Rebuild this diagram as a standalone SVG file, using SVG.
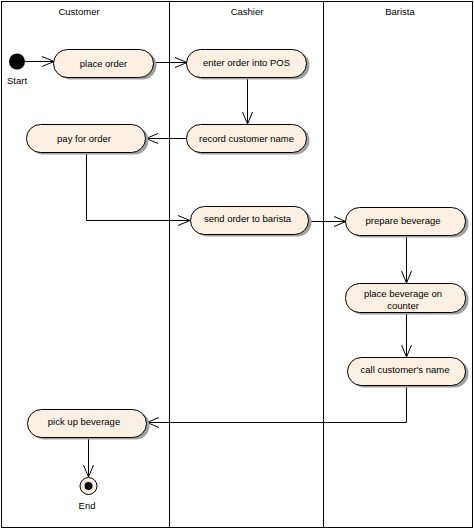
<svg xmlns="http://www.w3.org/2000/svg" width="474" height="529" viewBox="0 0 474 529">
<defs>
<marker id="arr" viewBox="0 0 12 12" refX="12" refY="6" markerWidth="12" markerHeight="12" markerUnits="userSpaceOnUse" orient="auto">
<path d="M0,1 L12,6 L0,11" fill="none" stroke="#000" stroke-width="1"/>
</marker>
</defs>
<style>
text{font-family:"Liberation Sans",Arial,sans-serif;font-size:9.5px;fill:#000;text-anchor:middle}
.act{fill:#FBF0E1;stroke:#000;stroke-width:1}
.sh{fill:#A0A0A0}
.lane{fill:none;stroke:#000;stroke-width:1}
.c{fill:none;stroke:#000;stroke-width:1;marker-end:url(#arr)}
</style>
<rect x="0" y="0" width="474" height="529" fill="#fff"/>
<g id="lanes">
<rect class="lane" x="1.5" y="1.5" width="471" height="526"/>
<line class="lane" x1="169.5" y1="1.5" x2="169.5" y2="527.5"/>
<line class="lane" x1="323.5" y1="1.5" x2="323.5" y2="527.5"/>
<text x="79" y="15">Customer</text>
<text x="247" y="15">Cashier</text>
<text x="400" y="15">Barista</text>
</g>
<g id="connectors">
<line class="c" x1="25" y1="61.5" x2="54" y2="61.5"/>
<line class="c" x1="154" y1="62.5" x2="187" y2="62.5"/>
<line class="c" x1="247.5" y1="77" x2="247.5" y2="124"/>
<line class="c" x1="187" y1="138.5" x2="146" y2="138.5"/>
<polyline class="c" points="86.5,152 86.5,220.5 190,220.5"/>
<line class="c" x1="309" y1="221.5" x2="346" y2="221.5"/>
<line class="c" x1="406.5" y1="236" x2="406.5" y2="283"/>
<line class="c" x1="406.5" y1="313" x2="406.5" y2="357"/>
<polyline class="c" points="406.5,385 406.5,422.5 147,422.5"/>
<line class="c" x1="88.5" y1="437" x2="88.5" y2="477"/>
</g>
<g id="start">
<circle cx="17" cy="61.5" r="8" fill="#000"/>
<text x="17" y="84">Start</text>
</g>
<g id="place-order">
<rect class="sh" x="56.5" y="51.5" width="100" height="28" rx="14"/>
<rect class="act" x="53.5" y="49.5" width="100" height="28" rx="14"/>
<text x="103.5" y="66.5">place order</text>
</g>
<g id="enter-order">
<rect class="sh" x="189.5" y="51.5" width="120" height="28" rx="14"/>
<rect class="act" x="186.5" y="49.5" width="120" height="28" rx="14"/>
<text x="246.5" y="66">enter order into POS</text>
</g>
<g id="record-name">
<rect class="sh" x="189.5" y="126.5" width="120" height="28" rx="14"/>
<rect class="act" x="186.5" y="124.5" width="120" height="28" rx="14"/>
<text x="246.5" y="141.5">record customer name</text>
</g>
<g id="pay">
<rect class="sh" x="29.5" y="126.5" width="119" height="28" rx="14"/>
<rect class="act" x="26.5" y="124.5" width="119" height="28" rx="14"/>
<text x="84" y="141.5">pay for order</text>
</g>
<g id="send">
<rect class="sh" x="193.5" y="208.5" width="118" height="28" rx="14"/>
<rect class="act" x="190.5" y="206.5" width="118" height="28" rx="14"/>
<text x="247.5" y="222">send order to barista</text>
</g>
<g id="prepare">
<rect class="sh" x="348.5" y="209.5" width="120" height="28" rx="14"/>
<rect class="act" x="345.5" y="207.5" width="120" height="28" rx="14"/>
<text x="403" y="223.5">prepare beverage</text>
</g>
<g id="place-beverage">
<rect class="sh" x="348.5" y="285.5" width="120" height="29" rx="14"/>
<rect class="act" x="345.5" y="283.5" width="120" height="29" rx="14"/>
<text x="403" y="297">place beverage on</text>
<text x="403" y="309">counter</text>
</g>
<g id="call-name">
<rect class="sh" x="350.5" y="359.5" width="118" height="28" rx="14"/>
<rect class="act" x="347.5" y="357.5" width="118" height="28" rx="14"/>
<text x="405" y="372.5">call customer's name</text>
</g>
<g id="pick-up">
<rect class="sh" x="30.5" y="411.5" width="119" height="28" rx="14"/>
<rect class="act" x="27.5" y="409.5" width="119" height="28" rx="14"/>
<text x="84" y="425">pick up beverage</text>
</g>
<g id="end">
<circle cx="88.5" cy="486" r="8.5" fill="#FBF0E1" stroke="#000" stroke-width="1"/>
<circle cx="88.5" cy="486" r="4" fill="#000"/>
<text x="87" y="509">End</text>
</g>
</svg>
